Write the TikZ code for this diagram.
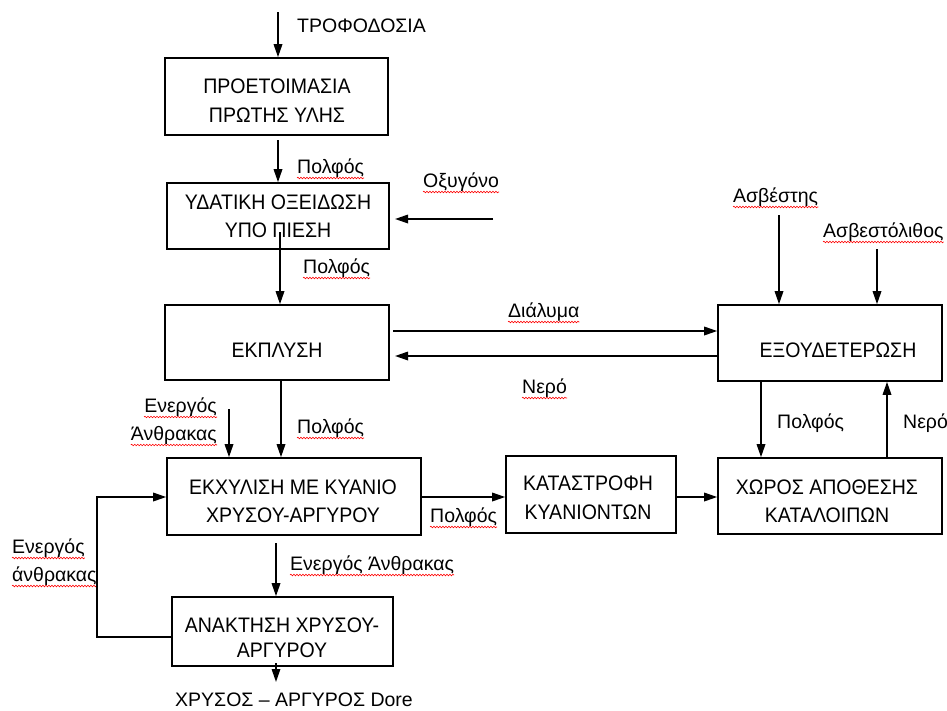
\documentclass[tikz,border=0pt]{standalone}
\usepackage{fontspec}
\setmainfont{Liberation Sans}
\newfontfamily\boxfam{Liberation Sans}[FakeStretch=0.93]
\usetikzlibrary{arrows.meta,decorations.pathmorphing}
\newcommand\lfnt{\fontsize{19.5}{28}\selectfont}
\newcommand\bfnt{\boxfam\fontsize{21}{28.5}\selectfont}
\newcommand\wavyunder[1]{\draw[wavy] ([yshift=-5pt]#1.base west) -- ([yshift=-5pt]#1.base east);}
\begin{document}
\begin{tikzpicture}[x=1pt,y=-1pt,
  box/.style={draw,line width=1.6pt,rectangle,inner sep=0pt},
  txt/.style={inner sep=0pt,anchor=base,align=center,font=\bfnt},
  lbl/.style={inner sep=0pt,anchor=base west,font=\lfnt},
  arr/.style={line width=1.7pt,-{Triangle[length=13pt,width=8.5pt]}},
  wavy/.style={draw=red,line width=0.6pt,decorate,decoration={snake,amplitude=0.8pt,segment length=3pt}}]
\useasboundingbox (0,0) rectangle (947,710);

% boxes
\node[box,minimum width=223pt,minimum height=77pt] (b1) at (276.5,96.5) {};
\node[box,minimum width=222pt,minimum height=66pt] (b2) at (278,216) {};
\node[box,minimum width=224pt,minimum height=75pt] (b3) at (277,342.5) {};
\node[box,minimum width=224pt,minimum height=76pt] (b4) at (830,343) {};
\node[box,minimum width=254pt,minimum height=77pt] (b5) at (294,496.5) {};
\node[box,minimum width=170pt,minimum height=77pt] (b6) at (591,494.5) {};
\node[box,minimum width=224pt,minimum height=76pt] (b7) at (830,496) {};
\node[box,minimum width=221pt,minimum height=69pt] (b8) at (282.5,631.5) {};

% box texts (anchor = baseline of the last line)
\node[txt] (t1) at (277,122) {ΠΡΟΕΤΟΙΜΑΣΙΑ\\ΠΡΩΤΗΣ ΥΛΗΣ};
\node[txt] (t2) at (278,237.5) {ΥΔΑΤΙΚΗ ΟΞΕΙΔΩΣΗ\\ΥΠΟ ΠΙΕΣΗ};
\node[txt] (t3) at (277,357.5) {ΕΚΠΛΥΣΗ};
\node[txt] (t4) at (838,357.5) {ΕΞΟΥΔΕΤΕΡΩΣΗ};
\node[txt] (t5) at (293,522.5) {ΕΚΧΥΛΙΣΗ ΜΕ ΚΥΑΝΙΟ\\ΧΡΥΣΟΥ-ΑΡΓΥΡΟΥ};
\node[txt,font=\boxfam\fontsize{21}{29}\selectfont] (t6) at (588,519.5) {ΚΑΤΑΣΤΡΟΦΗ\\ΚΥΑΝΙΟΝΤΩΝ};
\node[txt] (t7) at (827,522.5) {ΧΩΡΟΣ ΑΠΟΘΕΣΗΣ\\ΚΑΤΑΛΟΙΠΩΝ};
\node[txt,font=\boxfam\fontsize{21}{25}\selectfont] (t8) at (282,657.5) {ΑΝΑΚΤΗΣΗ ΧΡΥΣΟΥ-\\ΑΡΓΥΡΟΥ};

% labels
\node[lbl] (l0) at (297,32) {ΤΡΟΦΟΔΟΣΙΑ};
\node[lbl] (l1) at (297,173) {Πολφός};
\node[lbl] (l2) at (423,187) {Οξυγόνο};
\node[lbl] (l3) at (303,273) {Πολφός};
\node[lbl] (l4) at (508,317) {Διάλυμα};
\node[lbl] (l5) at (522,393) {Νερό};
\node[lbl] (l6) at (733,202) {Ασβέστης};
\node[lbl] (l7) at (823,237) {Ασβεστόλιθος};
\node[lbl] (l8) at (777,428) {Πολφός};
\node[lbl] (l9) at (903,428) {Νερό};
\node[lbl,anchor=base east] (l10a) at (217,412) {Ενεργός};
\node[lbl,anchor=base east] (l10b) at (217,440) {Άνθρακας};
\node[lbl] (l11) at (297,433) {Πολφός};
\node[lbl] (l12) at (430,522) {Πολφός};
\node[lbl] (l13a) at (12,553) {Ενεργός};
\node[lbl] (l13b) at (12,581) {άνθρακας};
\node[lbl] (l14) at (290,570) {Ενεργός Άνθρακας};
\node[lbl] (l15) at (175,706) {ΧΡΥΣΟΣ – ΑΡΓΥΡΟΣ Dore};

\wavyunder{l1}\wavyunder{l2}\wavyunder{l3}\wavyunder{l4}\wavyunder{l5}
\wavyunder{l6}\wavyunder{l7}\wavyunder{l10a}\wavyunder{l10b}\wavyunder{l11}
\wavyunder{l12}\wavyunder{l13a}\wavyunder{l13b}\wavyunder{l14}

% connector coordinates
\coordinate (c0) at (278,12);
\coordinate (c1) at (278,140);
\coordinate (cox) at (493,219);
\coordinate (coxe) at (395,219);
\coordinate (c2) at (280,232);
\coordinate (cd) at (393,331);
\coordinate (cn) at (395,356);
\coordinate (ca) at (779,215);
\coordinate (cl) at (877,249);
\coordinate (cp) at (281,380);
\coordinate (ce) at (229,409);
\coordinate (y497) at (0,497);
\coordinate (x761) at (761,0);
\coordinate (x887) at (887,0);
\coordinate (c5) at (276,543);
\coordinate (fb) at (97,637);
\coordinate (o1) at (276,663);
\coordinate (o2) at (276,682);

% connectors
\draw[arr] (c0) -- (c0 |- b1.north);
\draw[arr] (c1) -- (c1 |- b2.north);
\draw[arr] (cox) -- (coxe);
\draw[arr] (c2) -- (c2 |- b3.north);
\draw[arr] (cd) -- (cd -| b4.west);
\draw[arr] (cn -| b4.west) -- (cn);
\draw[arr] (ca) -- (ca |- b4.north);
\draw[arr] (cl) -- (cl |- b4.north);
\draw[arr] (cp |- b3.south) -- (cp |- b5.north);
\draw[arr] (ce) -- (ce |- b5.north);
\draw[arr] (b5.east |- y497) -- (b6.west |- y497);
\draw[arr] (b6.east |- y497) -- (b7.west |- y497);
\draw[arr] (x761 |- b4.south) -- (x761 |- b7.north);
\draw[arr] (x887 |- b7.north) -- (x887 |- b4.south);
\draw[arr] (c5) -- (c5 |- b8.north);
\draw[arr] (b8.west |- fb) -- (fb) |- (b5.west |- y497);
\draw[arr] (o1) -- (o2);
\end{tikzpicture}
\end{document}
